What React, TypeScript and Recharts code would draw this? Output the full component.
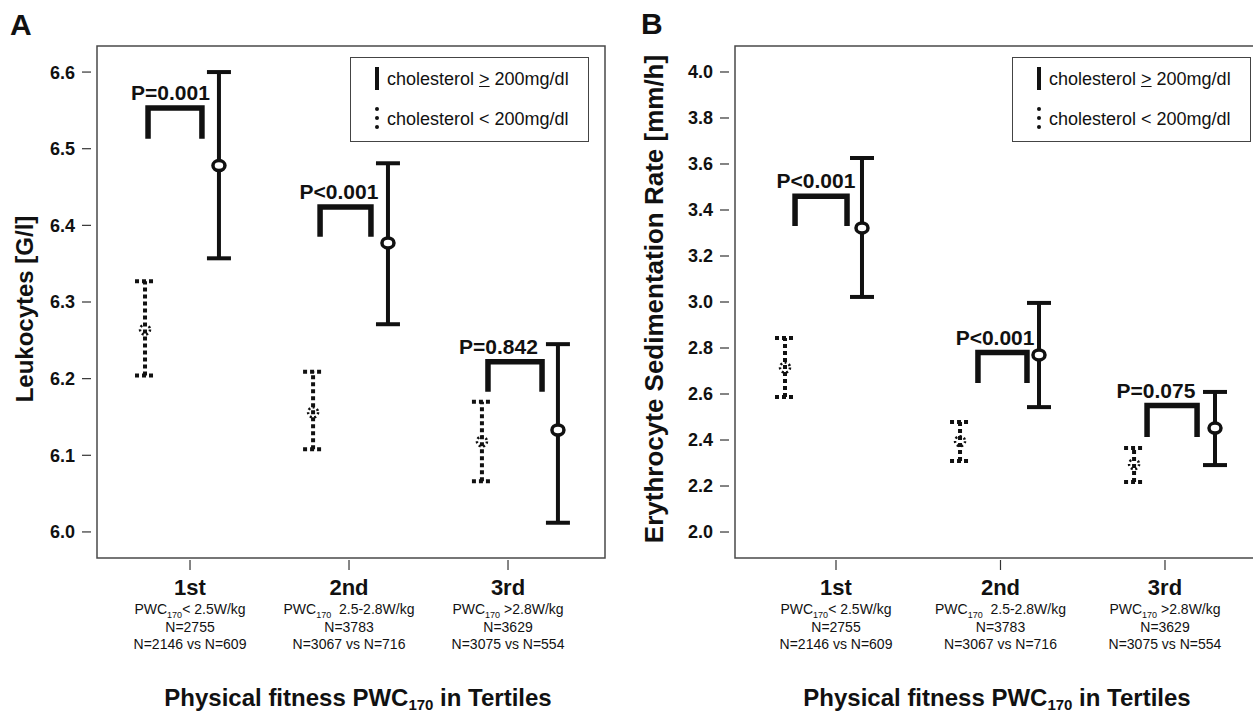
import React from 'react';
import {
  ComposedChart,
  Scatter,
  ErrorBar,
  Line,
  XAxis,
  YAxis,
  ReferenceArea,
  ReferenceDot,
} from 'recharts';

// x axis categories
const tertiles = ['1st', '2nd', '3rd'];
const pwcRanges = ['< 2.5W/kg', '  2.5-2.8W/kg', ' >2.8W/kg'];
const totalN = ['N=2755', 'N=3783', 'N=3629'];
const splitN = ['N=2146 vs N=609', 'N=3067 vs N=716', 'N=3075 vs N=554'];

// panel A - leukocytes [G/l]
const leukoTicks = [6.0, 6.1, 6.2, 6.3, 6.4, 6.5, 6.6];
const leukoLowX = [0.717, 1.774, 2.836];
const leukoLowMean = [6.264, 6.156, 6.118];
const leukoLowLo = [6.204, 6.108, 6.066];
const leukoLowHi = [6.327, 6.209, 6.17];
const leukoHighX = [1.182, 2.245, 3.314];
const leukoHighMean = [6.478, 6.377, 6.133];
const leukoHighLo = [6.357, 6.271, 6.012];
const leukoHighHi = [6.6, 6.481, 6.245];
const leukoP = ['P=0.001', 'P<0.001', 'P=0.842'];
const leukoPx = [0.877, 1.937, 2.94];
const leukoBracketL = [0.736, 1.818, 2.874];
const leukoBracketR = [1.075, 2.138, 3.214];
const leukoBracketTop = [6.553, 6.424, 6.222];
const leukoBracketFoot = [6.513, 6.385, 6.183];

// panel B - ESR [mm/h]
const esrTicks = [2.0, 2.2, 2.4, 2.6, 2.8, 3.0, 3.2, 3.4, 3.6, 3.8, 4.0];
const esrLowX = [0.69, 1.754, 2.812];
const esrLowMean = [2.715, 2.395, 2.295];
const esrLowLo = [2.587, 2.309, 2.217];
const esrLowHi = [2.843, 2.478, 2.365];
const esrHighX = [1.158, 2.234, 3.304];
const esrHighMean = [3.322, 2.77, 2.452];
const esrHighLo = [3.022, 2.543, 2.291];
const esrHighHi = [3.626, 2.996, 2.609];
const esrP = ['P<0.001', 'P<0.001', 'P=0.075'];
const esrPx = [0.878, 1.967, 2.945];
const esrBracketL = [0.751, 1.863, 2.891];
const esrBracketR = [1.067, 2.161, 3.195];
const esrBracketTop = [3.46, 2.78, 2.55];
const esrBracketFoot = [3.33, 2.648, 2.413];

const FONT = '"Liberation Sans", Arial, sans-serif';
const INK = '#111';

const makeBars = (xs: number[], mean: number[], lo: number[], hi: number[]) =>
  xs.map((x, i) => ({ x, y: mean[i], err: [mean[i] - lo[i], hi[i] - mean[i]] }));

const makeBrackets = (l: number[], r: number[], top: number[], foot: number[]) =>
  l.map((_, i) => [
    { x: l[i], y: foot[i] },
    { x: l[i], y: top[i] },
    { x: r[i], y: top[i] },
    { x: r[i], y: foot[i] },
  ]);

const XTick = (props: any) => {
  const { x, y, payload } = props;
  const i = payload.value - 1;
  return (
    <g fontFamily={FONT} fill={INK}>
      <line x1={x} x2={x} y1={y} y2={y + 10} stroke="#333" strokeWidth={1.2} />
      <text x={x} y={y + 35} textAnchor="middle" fontSize={22} fontWeight="bold">
        {tertiles[i]}
      </text>
      <text x={x} y={y + 54} textAnchor="middle" fontSize={14} style={{ whiteSpace: 'pre' }}>
        PWC
        <tspan fontSize={9} dy={4}>170</tspan>
        <tspan dy={-4}>{pwcRanges[i]}</tspan>
      </text>
      <text x={x} y={y + 72} textAnchor="middle" fontSize={14}>
        {totalN[i]}
      </text>
      <text x={x} y={y + 89} textAnchor="middle" fontSize={14}>
        {splitN[i]}
      </text>
    </g>
  );
};

const YTick = (props: any) => {
  const { x, y, payload } = props;
  return (
    <g>
      <line x1={x - 13} x2={x - 4} y1={y} y2={y} stroke="#333" strokeWidth={1.2} />
      <text
        x={x - 20}
        y={y}
        dy="0.36em"
        textAnchor="end"
        fontFamily={FONT}
        fontSize={18}
        fontWeight="bold"
        fill={INK}
      >
        {Number(payload.value).toFixed(1)}
      </text>
    </g>
  );
};

const lowMarker = (p: any) => (
  <circle cx={p.cx} cy={p.cy} r={5} fill="none" stroke={INK} strokeWidth={2.5} strokeDasharray="2 2.5" />
);
const highMarker = (p: any) => (
  <ellipse cx={p.cx} cy={p.cy} rx={6} ry={5} fill="#fff" stroke={INK} strokeWidth={3.5} />
);

interface PanelProps {
  left: number;
  width: number;
  axisWidth: number;
  marginRight: number;
  xDomain: [number, number];
  yDomain: [number, number];
  yTicks: number[];
  low: any[];
  high: any[];
  brackets: any[][];
  pLabels: string[];
  pX: number[];
  pY: number[];
}

const Panel = (p: PanelProps) => (
  <div style={{ position: 'absolute', left: p.left, top: 0 }}>
    <ComposedChart
      width={p.width}
      height={714}
      margin={{ top: 46, right: p.marginRight, bottom: 0, left: 0 }}
    >
      <XAxis
        type="number"
        dataKey="x"
        domain={p.xDomain}
        ticks={[1, 2, 3]}
        interval={0}
        height={156}
        tickSize={0}
        tickLine={false}
        axisLine={false}
        tick={XTick}
      />
      <YAxis
        type="number"
        dataKey="y"
        domain={p.yDomain}
        ticks={p.yTicks}
        interval={0}
        width={p.axisWidth}
        tickSize={0}
        tickLine={false}
        axisLine={false}
        tick={YTick}
      />
      {/* plot frame */}
      <ReferenceArea
        x1={p.xDomain[0]}
        x2={p.xDomain[1]}
        y1={p.yDomain[0]}
        y2={p.yDomain[1]}
        fill="none"
        stroke="#4a4a4a"
        strokeWidth={1.5}
      />
      {p.brackets.map((b, i) => (
        <Line
          key={i}
          data={b}
          dataKey="y"
          type="linear"
          stroke={INK}
          strokeWidth={5.5}
          strokeLinejoin="miter"
          dot={false}
          activeDot={false}
          isAnimationActive={false}
        />
      ))}
      <Scatter data={p.low} shape={lowMarker} isAnimationActive={false}>
        <ErrorBar
          dataKey="err"
          direction="y"
          width={10}
          stroke={INK}
          strokeWidth={4}
          strokeDasharray="4 3"
          isAnimationActive={false}
        />
      </Scatter>
      <Scatter data={p.high} shape={highMarker} isAnimationActive={false}>
        <ErrorBar
          dataKey="err"
          direction="y"
          width={12}
          stroke={INK}
          strokeWidth={4}
          isAnimationActive={false}
        />
      </Scatter>
      {p.pLabels.map((label, i) => (
        <ReferenceDot
          key={label + i}
          x={p.pX[i]}
          y={p.pY[i]}
          r={0}
          shape={(d: any) => (
            <text
              x={d.cx}
              y={d.cy - 8}
              textAnchor="middle"
              fontFamily={FONT}
              fontSize={21}
              fontWeight="bold"
              fill={INK}
            >
              {label}
            </text>
          )}
        />
      ))}
    </ComposedChart>
  </div>
);

const LegendBox = ({ left }: { left: number }) => (
  <div
    style={{
      position: 'absolute',
      left,
      top: 57,
      width: 239,
      height: 85,
      boxSizing: 'border-box',
      border: '1.5px solid #444',
      background: '#fff',
      fontFamily: FONT,
      fontSize: 18,
      lineHeight: '18px',
      color: INK,
    }}
  >
    <div style={{ position: 'absolute', left: 24, top: 9, width: 4, height: 23, background: INK }} />
    <div style={{ position: 'absolute', left: 36, top: 12, whiteSpace: 'pre' }}>
      cholesterol <u>&gt;</u> 200mg/dl
    </div>
    {[49, 58, 67].map((t) => (
      <div
        key={t}
        style={{ position: 'absolute', left: 24, top: t, width: 4, height: 4, borderRadius: 2, background: INK }}
      />
    ))}
    <div style={{ position: 'absolute', left: 36, top: 52, whiteSpace: 'pre' }}>
      cholesterol &lt; 200mg/dl
    </div>
  </div>
);

const App = () => {
  const leukoLow = makeBars(leukoLowX, leukoLowMean, leukoLowLo, leukoLowHi);
  const leukoHigh = makeBars(leukoHighX, leukoHighMean, leukoHighLo, leukoHighHi);
  const esrLow = makeBars(esrLowX, esrLowMean, esrLowLo, esrLowHi);
  const esrHigh = makeBars(esrHighX, esrHighMean, esrHighLo, esrHighHi);

  return (
    <div
      style={{
        position: 'absolute',
        left: 0,
        top: 0,
        width: 1253,
        height: 714,
        overflow: 'hidden',
        background: '#fff',
      }}
    >
      <Panel
        left={0}
        width={620}
        axisWidth={97}
        marginRight={15}
        xDomain={[0.415, 3.61]}
        yDomain={[5.966, 6.634]}
        yTicks={leukoTicks}
        low={leukoLow}
        high={leukoHigh}
        brackets={makeBrackets(leukoBracketL, leukoBracketR, leukoBracketTop, leukoBracketFoot)}
        pLabels={leukoP}
        pX={leukoPx}
        pY={leukoBracketTop}
      />
      <Panel
        left={620}
        width={655}
        axisWidth={115}
        marginRight={10}
        xDomain={[0.386, 3.608]}
        yDomain={[1.887, 4.113]}
        yTicks={esrTicks}
        low={esrLow}
        high={esrHigh}
        brackets={makeBrackets(esrBracketL, esrBracketR, esrBracketTop, esrBracketFoot)}
        pLabels={esrP}
        pX={esrPx}
        pY={esrBracketTop}
      />
      <LegendBox left={350} />
      <LegendBox left={1012} />
      <svg
        width={1253}
        height={714}
        style={{ position: 'absolute', left: 0, top: 0, pointerEvents: 'none' }}
        fontFamily={FONT}
        fontWeight="bold"
        fill={INK}
      >
        <text x={10} y={35} fontSize={30}>A</text>
        <text x={641} y={34} fontSize={30}>B</text>
        <text x={24} y={309} dy="0.36em" fontSize={24} textAnchor="middle" transform="rotate(-90 24 309)">
          Leukocytes [G/l]
        </text>
        <text x={654} y={299} dy="0.36em" fontSize={26} textAnchor="middle" transform="rotate(-90 654 299)">
          Erythrocyte Sedimentation Rate [mm/h]
        </text>
        {[358, 997].map((cx) => (
          <text key={cx} x={cx} y={706} fontSize={24} textAnchor="middle">
            Physical fitness PWC
            <tspan fontSize={15} dy={4}>170</tspan>
            <tspan dy={-4}> in Tertiles</tspan>
          </text>
        ))}
      </svg>
    </div>
  );
};

export default App;
